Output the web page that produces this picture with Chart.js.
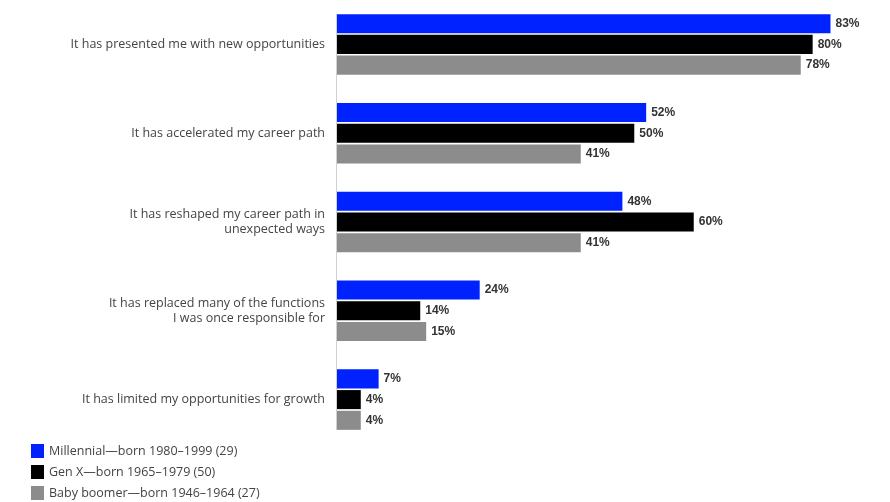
<!DOCTYPE html>
<html>
<head>
<meta charset="utf-8">
<script src="https://cdn.jsdelivr.net/npm/chart.js@4"></script>
<style>
  html, body { margin: 0; padding: 0; background: #fff; }
  #wrap { width: 890px; height: 502px; position: relative; }
</style>
</head>
<body>
<div id="wrap"><canvas id="chart"></canvas></div>
<script>
// categories (top to bottom)
const categories = [
  'It has presented me with new opportunities',
  'It has accelerated my career path',
  ['It has reshaped my career path in', 'unexpected ways'],
  ['It has replaced many of the functions', 'I was once responsible for'],
  'It has limited my opportunities for growth'
];

// series values, in percent
const millennial = [83, 52, 48, 24, 7];
const genX = [80, 50, 60, 14, 4];
const boomer = [78, 41, 41, 15, 4];

const seriesNames = [
  'Millennial\u2014born 1980\u20131999 (29)',
  'Gen X\u2014born 1965\u20131979 (50)',
  'Baby boomer\u2014born 1946\u20131964 (27)'
];
const seriesColors = ['#0022ff', '#000000', '#8c8c8c'];

const FONT = '"Open Sans", "Liberation Sans", Arial, sans-serif';
const VALUE_FONT = '"Liberation Sans", Arial, sans-serif';

// value labels at end of bars, plus the axis line that only runs along the bars
const valueLabels = {
  id: 'valueLabels',
  afterDatasetsDraw(chart) {
    const ctx = chart.ctx;
    const first = chart.getDatasetMeta(0).data[0];
    const last = chart.getDatasetMeta(2).data[categories.length - 1];
    ctx.save();
    ctx.strokeStyle = '#d0d0d0';
    ctx.lineWidth = 1;
    ctx.beginPath();
    ctx.moveTo(chart.chartArea.left - 0.5, first.y - first.height / 2);
    ctx.lineTo(chart.chartArea.left - 0.5, last.y + last.height / 2);
    ctx.stroke();

    ctx.font = 'bold 12px ' + VALUE_FONT;
    ctx.fillStyle = '#333';
    ctx.textAlign = 'left';
    ctx.textBaseline = 'middle';
    chart.data.datasets.forEach((ds, i) => {
      chart.getDatasetMeta(i).data.forEach((bar, j) => {
        ctx.fillText(ds.data[j] + '%', bar.x + 5, bar.y);
      });
    });
    ctx.restore();
  }
};

// one-column legend in the bottom-left corner
const stackedLegend = {
  id: 'stackedLegend',
  afterDraw(chart) {
    const ctx = chart.ctx;
    ctx.save();
    ctx.font = '12.5px ' + FONT;
    ctx.textBaseline = 'middle';
    chart.data.datasets.forEach((ds, i) => {
      const y = 451 + i * 21;
      ctx.fillStyle = ds.backgroundColor;
      ctx.fillRect(31, y - 7, 13, 14);
      ctx.fillStyle = '#444';
      ctx.fillText(ds.label, 49, y);
    });
    ctx.restore();
  }
};

new Chart(document.getElementById('chart'), {
  type: 'bar',
  data: {
    labels: categories,
    datasets: [
      { label: seriesNames[0], data: millennial, backgroundColor: seriesColors[0] },
      { label: seriesNames[1], data: genX, backgroundColor: seriesColors[1] },
      { label: seriesNames[2], data: boomer, backgroundColor: seriesColors[2] }
    ]
  },
  options: {
    indexAxis: 'y',
    responsive: true,
    maintainAspectRatio: false,
    animation: false,
    categoryPercentage: 0.7,
    barPercentage: 0.92,
    layout: { padding: { top: 0, right: 6, bottom: 58, left: 0 } },
    plugins: {
      legend: { display: false },
      tooltip: { enabled: false }
    },
    scales: {
      x: {
        display: false,
        min: 0,
        max: 92
      },
      y: {
        grid: { display: false, drawTicks: false },
        border: { display: false },
        ticks: {
          padding: 12,
          color: '#444',
          font: { family: FONT, size: 12.5 }
        },
        afterFit(scale) {
          scale.width = 337;
          scale.paddingTop = 0;
          scale.paddingBottom = 0;
        }
      }
    }
  },
  plugins: [valueLabels, stackedLegend]
});
</script>
</body>
</html>
